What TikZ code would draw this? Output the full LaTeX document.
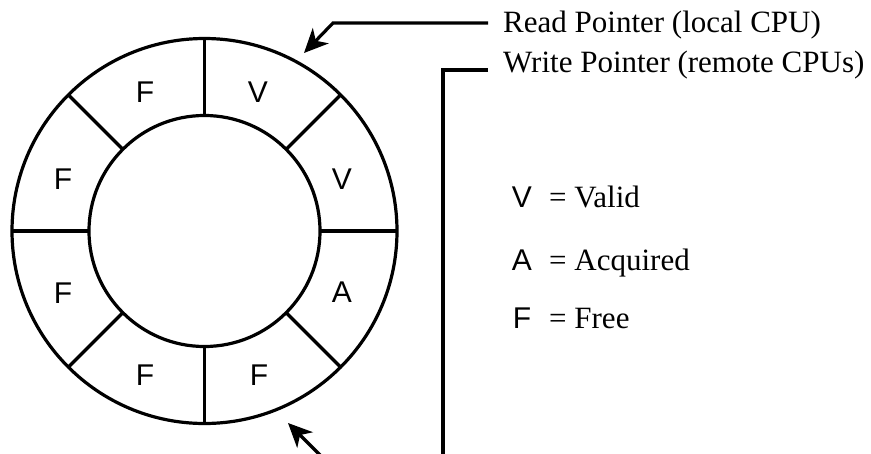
\documentclass[tikz,border=0pt]{standalone}
\usepackage{fontspec}
\setmainfont{Liberation Serif}
\setsansfont{Liberation Sans}
\usetikzlibrary{arrows.meta}
\begin{document}
\begin{tikzpicture}[x=1pt,y=-1pt,
  ln/.style={line width=3.2pt},
  ptr/.style={line width=3.2pt,-{Stealth[length=24pt,width=22pt,inset=7pt]}},
  ring/.style={circle,draw,line width=3.2pt,inner sep=0pt,outer sep=0pt},
  slot/.style={font=\sffamily\fontsize{30}{32}\selectfont,inner sep=0pt},
  lbl/.style={font=\fontsize{31}{34}\selectfont,inner sep=0pt,anchor=base west},
  key/.style={font=\sffamily\fontsize{30}{32}\selectfont,inner sep=0pt,anchor=base}]
\useasboundingbox (0,0) rectangle (871,453);
% ring
\node[ring,minimum size=385pt] (outer) at (204.5,231) {};
\node[ring,minimum size=231pt] (inner) at (204.5,231) {};
\foreach \a in {0,45,...,315} {\draw[ln] (inner.\a) -- (outer.\a);}
% slots
\node[slot] (s1) at (145,92) {F};
\node[slot] (s2) at (258,92) {V};
\node[slot] (s3) at (342,179) {V};
\node[slot] (s4) at (342,292) {A};
\node[slot] (s5) at (259,375) {F};
\node[slot] (s6) at (145,375) {F};
\node[slot] (s7) at (63,293) {F};
\node[slot] (s8) at (63,179) {F};
% labels
\node[lbl] (read) at (503,32) {Read Pointer (local CPU)};
\node[lbl] (write) at (503,72) {Write Pointer (remote CPUs)};
\coordinate (rbend) at (333,23);
\coordinate (rtip) at (304,53);
\coordinate (rstart) at (488,23);
\draw[ptr] (rstart) -- (rbend) -- (rtip);
\coordinate (wstart) at (488,70);
\coordinate (wbend) at (443,70);
\coordinate (wend) at (443,470);
\draw[ln] (wstart) -- (wbend) -- (wend);
\coordinate (btail) at (335,470);
\coordinate (btip) at (288,423);
\draw[ptr] (btail) -- (btip);
% legend
\node[key] (kv) at (522,207) {V};
\node[lbl] (tv) at (549,207) {= Valid};
\node[key] (ka) at (522,270) {A};
\node[lbl] (ta) at (549,270) {= Acquired};
\node[key] (kf) at (522,328) {F};
\node[lbl] (tf) at (549,328) {= Free};
\end{tikzpicture}
\end{document}
